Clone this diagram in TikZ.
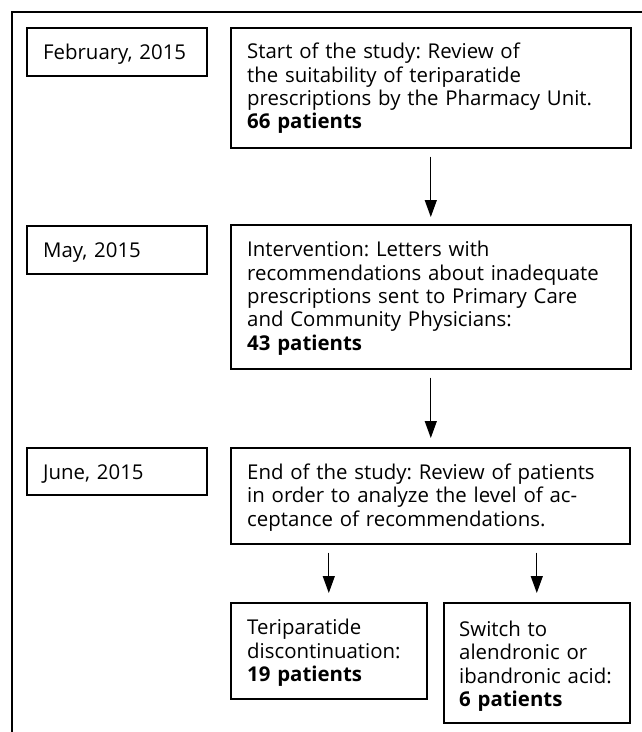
\documentclass[tikz,border=0pt]{standalone}
\usepackage{fontspec}
\setmainfont{Open Sans}
\usetikzlibrary{arrows.meta}
\frenchspacing
\newcommand{\fs}{\rule{0pt}{16pt}}
\tikzset{
  frame/.style={draw=black, line width=1.6pt, anchor=north west, inner sep=0pt},
  txt/.style={anchor=north west, inner sep=0pt, align=left, text width=390pt,
    font=\fontsize{20.4}{23.4}\selectfont},
  arr/.style={line width=1.2pt, -{Triangle[length=17pt,width=12pt]}},
}
\begin{document}
\begin{tikzpicture}[x=1pt,y=-1pt]
\useasboundingbox (0,0) rectangle (641,732);
\draw[line width=2pt] (12,733) -- (12,12) -- (642,12);
% date boxes
\node[frame, minimum width=180pt, minimum height=48pt] (d1) at (26,27) {};
\node[frame, minimum width=180pt, minimum height=48pt] (d2) at (26,225) {};
\node[frame, minimum width=180pt, minimum height=47pt] (d3) at (26,447) {};
\node[txt] (d1t) at ([xshift=17pt,yshift=-16pt]d1.north west) {\fs February, 2015};
\node[txt] (d2t) at ([xshift=17pt,yshift=-16pt]d2.north west) {\fs May, 2015};
\node[txt] (d3t) at ([xshift=17pt,yshift=-16pt]d3.north west) {\fs June, 2015};
% main boxes
\node[frame, minimum width=400pt, minimum height=120pt] (b1) at (230,27) {};
\node[frame, minimum width=400pt, minimum height=144pt] (b2) at (230,224) {};
\node[frame, minimum width=399pt, minimum height=96pt] (b3) at (230,447) {};
\node[frame, minimum width=196pt, minimum height=96pt] (t) at (230,602) {};
\node[frame, minimum width=186pt, minimum height=120pt] (s) at (443,602) {};
\node[txt] (b1t) at ([xshift=17pt,yshift=-15.5pt]b1.north west)
  {\fs Start of the study: Review of\\the suitability of teriparatide\\prescriptions by the Pharmacy Unit.\\\textbf{66 patients}};
\node[txt] (b2t) at ([xshift=17pt,yshift=-16.5pt]b2.north west)
  {\fs Intervention: Letters with\\recommendations about inadequate\\prescriptions sent to Primary Care\\and Community Physicians:\\\textbf{43 patients}};
\node[txt] (b3t) at ([xshift=17pt,yshift=-16pt]b3.north west)
  {\fs End of the study: Review of patients\\in order to analyze the level of ac-\\ceptance of recommendations.};
\node[txt] (tt) at ([xshift=17pt,yshift=-16.5pt]t.north west)
  {\fs Teriparatide\\discontinuation:\\\textbf{19 patients}};
\node[txt] (st) at ([xshift=16pt,yshift=-18pt]s.north west)
  {\fs Switch to\\alendronic or\\ibandronic acid:\\\textbf{6 patients}};
% arrows
\draw[arr] ([yshift=-8pt]b1.south) -- ([yshift=7pt]b1.south |- b2.north);
\draw[arr] ([yshift=-8pt]b2.south) -- ([yshift=9pt]b2.south |- b3.north);
\coordinate (tl) at (t.north |- b3.south);
\coordinate (sl) at (s.north |- b3.south);
\draw[arr] ([yshift=-8pt]tl) -- ([yshift=9pt]t.north);
\draw[arr] ([yshift=-8pt]sl) -- ([yshift=9pt]s.north);
\end{tikzpicture}
\end{document}
